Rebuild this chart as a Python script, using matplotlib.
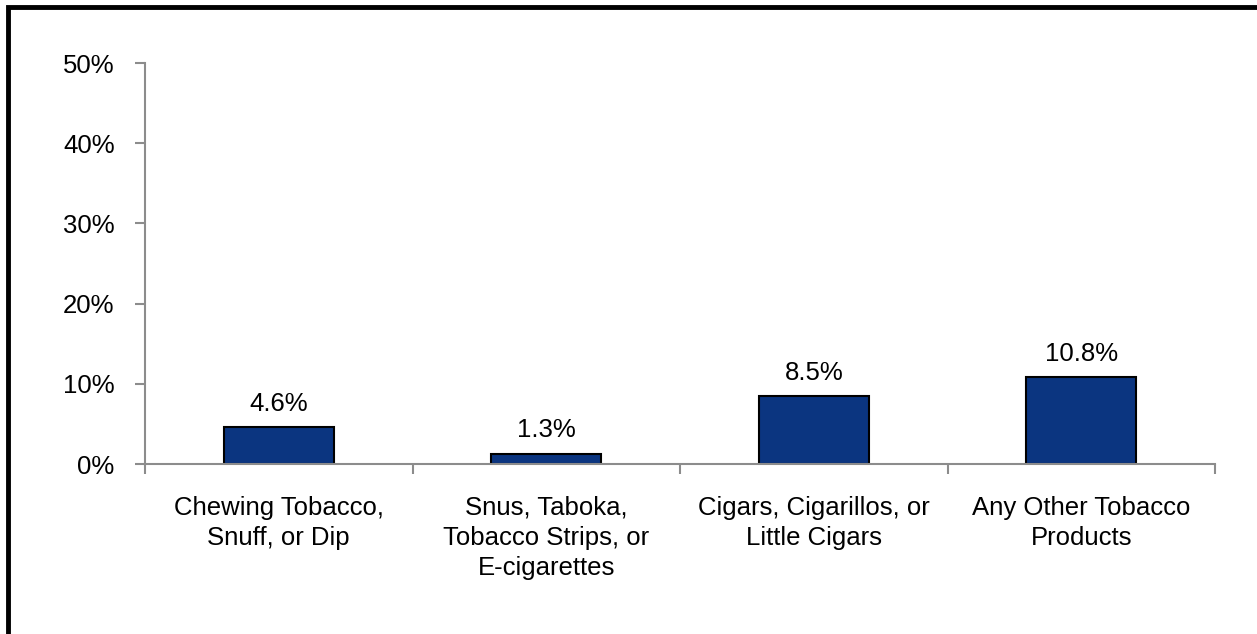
import matplotlib.pyplot as plt
import matplotlib.patches as patches
import numpy as np

plt.rcParams['font.family'] = ['Liberation Sans', 'DejaVu Sans']

# categorias e percentuais
categorias = [
    "Chewing Tobacco,\nSnuff, or Dip",
    "Snus, Taboka,\nTobacco Strips, or\nE-cigarettes",
    "Cigars, Cigarillos, or\nLittle Cigars",
    "Any Other Tobacco\nProducts",
]
valores = [4.6, 1.3, 8.5, 10.8]
rotulos = ["4.6%", "1.3%", "8.5%", "10.8%"]
y_ticks = [0, 10, 20, 30, 40, 50]
y_labels = ["0%", "10%", "20%", "30%", "40%", "50%"]

cor_barra = "#0B3580"
cinza = "#8C8C8C"

fig = plt.figure(figsize=(12.57, 6.34), dpi=100)
ax = fig.add_axes([0.1154, 0.2681, 0.8512, 0.6325])

x = np.arange(len(categorias))
barras = ax.bar(x, valores, width=0.41, color=cor_barra, edgecolor="black", linewidth=1.5)

for b, txt in zip(barras, rotulos):
    ax.annotate(txt, (b.get_x() + b.get_width() / 2, b.get_height()),
                xytext=(0, 8), textcoords="offset points",
                ha="center", va="bottom", fontsize=18.5)

ax.set_xlim(-0.5, len(categorias) - 0.5)
ax.set_ylim(0, 50)

# ticks maiores nas divisas entre categorias, rótulos no centro
ax.set_xticks(np.arange(-0.5, len(categorias), 1.0))
ax.set_xticklabels([])
ax.set_xticks(x, minor=True)
ax.set_xticklabels(categorias, minor=True, fontsize=18.5, linespacing=1.32)
ax.tick_params(axis="x", which="major", length=7, width=1.5, color=cinza, direction="out")
ax.tick_params(axis="x", which="minor", length=0, pad=23)

ax.set_yticks(y_ticks)
ax.set_yticklabels(y_labels, fontsize=18.5)
ax.tick_params(axis="y", length=7, width=1.5, color=cinza, pad=15)

for lado in ["top", "right"]:
    ax.spines[lado].set_visible(False)
for lado in ["left", "bottom"]:
    ax.spines[lado].set_color(cinza)
    ax.spines[lado].set_linewidth(1.5)

# moldura preta (cortada à direita e embaixo)
moldura = patches.Rectangle((0.0062, -0.05), 1.2, 1.0397, transform=fig.transFigure,
                            fill=False, edgecolor="black", linewidth=3.5, clip_on=False)
fig.patches.append(moldura)

fig.savefig("out.png", dpi=100)
